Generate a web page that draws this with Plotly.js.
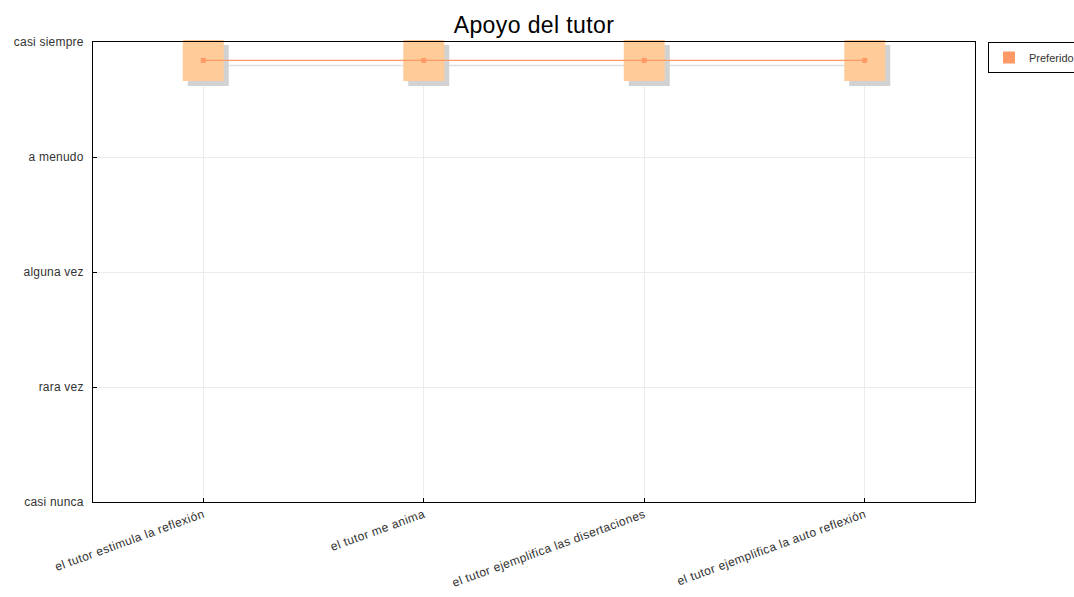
<!DOCTYPE html>
<html>
<head>
<meta charset="utf-8">
<script src="https://cdn.plot.ly/plotly-3.0.1.min.js"></script>
<style>
html,body{margin:0;padding:0;background:#fff;}
#chart{width:1074px;height:597px;}
#chart .xtick text{letter-spacing:0.4px;}
#chart .ytick text{letter-spacing:0.2px;}
#chart .gtitle{letter-spacing:0.4px;}
</style>
</head>
<body>
<div id="chart"></div>
<script>
// Data
const categories = [
  "el tutor estimula la reflexión",
  "el tutor me anima",
  "el tutor ejemplifica las disertaciones",
  "el tutor ejemplifica la auto reflexión"
];
const preferido = [3.84, 3.84, 3.84, 3.84];
const levelLabels = ["casi nunca", "rara vez", "alguna vez", "a menudo", "casi siempre"];
const levelValues = [0, 1, 2, 3, 4];
const seriesName = "Preferido";

const W = 1074, H = 597;
const L = 93, R = 99, T = 42, B = 95;
const plotW = W - L - R, plotH = H - T - B;
const xr = [-0.5, categories.length - 0.5];
const yr = [0, 4];
const shadowPx = 5;
const dx = shadowPx * (xr[1] - xr[0]) / plotW;
const dy = shadowPx * (yr[1] - yr[0]) / plotH;
const xIdx = categories.map((c, i) => i);

const font = "Liberation Sans, Arial, sans-serif";

const traces = [
  { // legend entry (base axes)
    x: [null], y: [null], mode: 'markers', type: 'scatter', name: seriesName,
    marker: {symbol: 'square', size: 12, color: '#FF9966'}
  },
  { // shadow
    x: xIdx, y: preferido, xaxis: 'x2', yaxis: 'y2',
    mode: 'lines+markers', type: 'scatter', showlegend: false, hoverinfo: 'skip',
    line: {color: '#dedede', width: 1.5},
    marker: {symbol: 'square', size: 41, color: '#d2d2d2', line: {width: 0}},
    cliponaxis: false
  },
  { // big squares
    x: xIdx, y: preferido, xaxis: 'x3', yaxis: 'y3',
    mode: 'markers', type: 'scatter', showlegend: false,
    marker: {symbol: 'square', size: 41, color: '#FFCC99', line: {width: 0}},
    cliponaxis: false
  },
  { // line + small markers
    x: xIdx, y: preferido, xaxis: 'x3', yaxis: 'y3',
    mode: 'lines+markers', type: 'scatter', showlegend: false,
    name: seriesName,
    line: {color: '#FF9966', width: 1.2},
    marker: {symbol: 'square', size: 5, color: '#FF9966'},
    cliponaxis: false
  }
];

const layout = {
  width: W, height: H,
  margin: {l: L, r: R, t: T, b: B, autoexpand: false},
  paper_bgcolor: '#fff', plot_bgcolor: '#fff',
  font: {family: font, size: 12, color: '#333'},
  title: {text: 'Apoyo del tutor', font: {family: font, size: 23, color: '#000'},
          x: (L + plotW / 2) / W, xanchor: 'center', y: 1 - 25 / H, yanchor: 'middle'},
  xaxis: {
    range: xr, tickvals: xIdx, ticktext: categories, tickangle: -20,
    showgrid: true, gridcolor: '#ebebeb', zeroline: false,
    showline: true, linecolor: '#000', linewidth: 1, mirror: true,
    ticks: 'inside', ticklen: 4, tickcolor: '#000',
    tickfont: {family: font, size: 12, color: '#333'}
  },
  yaxis: {
    range: yr, tickvals: levelValues, ticktext: levelLabels,
    showgrid: true, gridcolor: '#ebebeb', zeroline: false,
    showline: true, linecolor: '#000', linewidth: 1, mirror: true,
    ticks: 'inside', ticklen: 4, tickcolor: '#000', ticklabelstandoff: 6,
    tickfont: {family: font, size: 12, color: '#333'}
  },
  xaxis2: {range: [xr[0] - dx, xr[1] - dx], overlaying: 'x', visible: false, fixedrange: true},
  yaxis2: {range: [yr[0] + dy, yr[1] + dy], overlaying: 'y', visible: false, fixedrange: true},
  xaxis3: {range: xr, overlaying: 'x', visible: false, fixedrange: true},
  yaxis3: {range: yr, overlaying: 'y', visible: false, fixedrange: true},
  showlegend: true,
  legend: {
    x: (988 - L) / plotW, xanchor: 'left', y: 1, yanchor: 'top',
    bordercolor: '#000', borderwidth: 1, bgcolor: '#fff',
    itemwidth: 30,
    font: {family: font, size: 11, color: '#333'}
  }
};

Plotly.newPlot('chart', traces, layout, {displayModeBar: false, staticPlot: true});
</script>
</body>
</html>
